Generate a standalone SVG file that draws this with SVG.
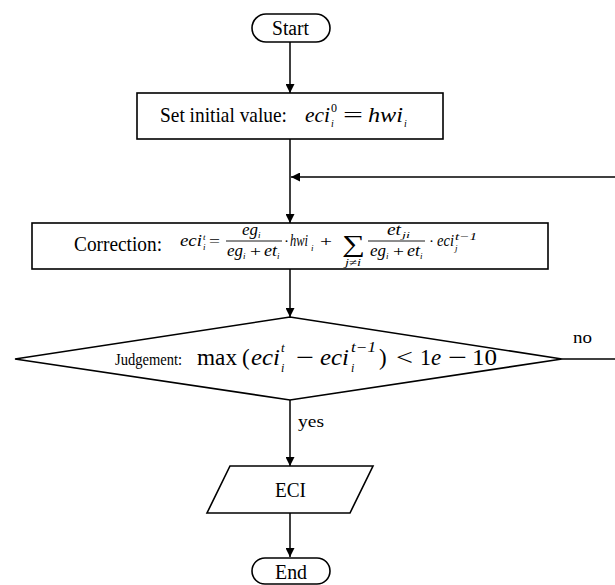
<svg xmlns="http://www.w3.org/2000/svg" width="615" height="585" viewBox="0 0 615 585">
<style>
.sh{fill:#fff;stroke:#000;stroke-width:1.6}
.ln{fill:none;stroke:#000;stroke-width:1.5}
text{font-family:'Liberation Serif','Times New Roman','DejaVu Serif',serif;fill:#000}
.m{font-style:italic}
.bar{stroke:#000;stroke-width:0.9}
</style>
<defs>
<marker id="ah" viewBox="0 0 10 10" refX="10" refY="5" markerWidth="9" markerHeight="9" markerUnits="userSpaceOnUse" orient="auto">
<path d="M0,0 L10,5 L0,10 z" fill="#000"/>
</marker>
</defs>
<g id="connectors">
<line class="ln" x1="290" y1="42" x2="290" y2="93" marker-end="url(#ah)"/>
<line class="ln" x1="290" y1="139" x2="290" y2="223" marker-end="url(#ah)"/>
<line class="ln" x1="615" y1="177" x2="291" y2="177" marker-end="url(#ah)"/>
<line class="ln" x1="290" y1="269" x2="290" y2="317" marker-end="url(#ah)"/>
<line class="ln" x1="290" y1="400" x2="290" y2="466" marker-end="url(#ah)"/>
<line class="ln" x1="562" y1="359" x2="615" y2="359"/>
<line class="ln" x1="290" y1="513" x2="290" y2="557" marker-end="url(#ah)"/>
<text x="298" y="427" font-size="17" textLength="26" lengthAdjust="spacingAndGlyphs">yes</text>
<text x="573" y="343" font-size="17" textLength="19" lengthAdjust="spacingAndGlyphs">no</text>
</g>
<g id="start">
<rect class="sh" x="252" y="14" width="78" height="28" rx="14"/>
<text x="272" y="35" font-size="20" textLength="37" lengthAdjust="spacingAndGlyphs">Start</text>
</g>
<g id="init">
<rect class="sh" x="137" y="93" width="306" height="46"/>
<text x="160" y="122" font-size="21" textLength="127" lengthAdjust="spacingAndGlyphs">Set initial value:</text>
<text class="m" x="305" y="122" font-size="22" textLength="25" lengthAdjust="spacingAndGlyphs">eci</text>
<text x="331" y="112" font-size="12">0</text>
<text class="m" x="331" y="127" font-size="10">i</text>
<text x="343" y="122" font-size="22" textLength="20" lengthAdjust="spacingAndGlyphs">=</text>
<text class="m" x="368" y="122" font-size="22" textLength="35" lengthAdjust="spacingAndGlyphs">hwi</text>
<text class="m" x="404" y="127" font-size="10">i</text>
</g>
<g id="correction">
<rect class="sh" x="32" y="223" width="516" height="46"/>
<text x="74" y="251" font-size="21" textLength="88" lengthAdjust="spacingAndGlyphs">Correction:</text>
<text class="m" x="180" y="246" font-size="16" textLength="22" lengthAdjust="spacingAndGlyphs">eci</text>
<text class="m" x="203" y="240" font-size="9">t</text>
<text class="m" x="203" y="250" font-size="9">i</text>
<text x="209" y="246" font-size="15" textLength="11" lengthAdjust="spacingAndGlyphs">=</text>
<text class="m" x="242" y="235" font-size="16" textLength="16" lengthAdjust="spacingAndGlyphs">eg</text>
<text class="m" x="258" y="238" font-size="9">i</text>
<line class="bar" x1="226" y1="241" x2="282" y2="241"/>
<text class="m" x="227" y="256" font-size="16" textLength="16" lengthAdjust="spacingAndGlyphs">eg</text>
<text class="m" x="243" y="259" font-size="9">i</text>
<text x="250" y="256" font-size="15" textLength="11" lengthAdjust="spacingAndGlyphs">+</text>
<text class="m" x="264" y="256" font-size="16" textLength="13" lengthAdjust="spacingAndGlyphs">et</text>
<text class="m" x="277" y="259" font-size="9">i</text>
<text x="284" y="246" font-size="15">·</text>
<text class="m" x="290" y="246" font-size="16" textLength="18" lengthAdjust="spacingAndGlyphs">hwi</text>
<text class="m" x="311" y="251" font-size="9">i</text>
<text x="320" y="246" font-size="15" textLength="12" lengthAdjust="spacingAndGlyphs">+</text>
<text x="342" y="252" font-size="24" textLength="23" lengthAdjust="spacingAndGlyphs">∑</text>
<text class="m" x="345" y="266" font-size="10" textLength="16" lengthAdjust="spacingAndGlyphs">j≠i</text>
<text class="m" x="387" y="235" font-size="16" textLength="14" lengthAdjust="spacingAndGlyphs">et</text>
<text class="m" x="402" y="238" font-size="9" textLength="8" lengthAdjust="spacingAndGlyphs">ji</text>
<line class="bar" x1="368" y1="241" x2="425" y2="241"/>
<text class="m" x="370" y="256" font-size="16" textLength="16" lengthAdjust="spacingAndGlyphs">eg</text>
<text class="m" x="386" y="259" font-size="9">i</text>
<text x="393" y="256" font-size="15" textLength="11" lengthAdjust="spacingAndGlyphs">+</text>
<text class="m" x="407" y="256" font-size="16" textLength="13" lengthAdjust="spacingAndGlyphs">et</text>
<text class="m" x="420" y="259" font-size="9">i</text>
<text x="429" y="246" font-size="15">·</text>
<text class="m" x="437" y="246" font-size="16" textLength="17" lengthAdjust="spacingAndGlyphs">eci</text>
<text class="m" x="455" y="240" font-size="10" textLength="22" lengthAdjust="spacingAndGlyphs">t−1</text>
<text class="m" x="455" y="251" font-size="9">j</text>
</g>
<g id="judgement">
<polygon class="sh" points="15,359 290,317 562,359 290,400"/>
<text x="115" y="365" font-size="17" textLength="67" lengthAdjust="spacingAndGlyphs">Judgement:</text>
<text x="197" y="365" font-size="23" textLength="40" lengthAdjust="spacingAndGlyphs">max</text>
<text x="242" y="365" font-size="23">(</text>
<text class="m" x="251" y="365" font-size="24" textLength="29" lengthAdjust="spacingAndGlyphs">eci</text>
<text class="m" x="281" y="352" font-size="13">t</text>
<text class="m" x="281" y="372" font-size="12">i</text>
<text x="296" y="365" font-size="23" textLength="18" lengthAdjust="spacingAndGlyphs">−</text>
<text class="m" x="320" y="365" font-size="24" textLength="29" lengthAdjust="spacingAndGlyphs">eci</text>
<text class="m" x="351" y="352" font-size="14" textLength="25" lengthAdjust="spacingAndGlyphs">t−1</text>
<text class="m" x="351" y="372" font-size="12">i</text>
<text x="379" y="365" font-size="23">)</text>
<text x="396" y="365" font-size="23" textLength="17" lengthAdjust="spacingAndGlyphs">&lt;</text>
<text x="420" y="365" font-size="23" textLength="11" lengthAdjust="spacingAndGlyphs">1</text>
<text class="m" x="431" y="365" font-size="23">e</text>
<text x="448" y="365" font-size="23" textLength="19" lengthAdjust="spacingAndGlyphs">−</text>
<text x="472" y="365" font-size="23" textLength="25" lengthAdjust="spacingAndGlyphs">10</text>
</g>
<g id="eci">
<polygon class="sh" points="230,466 373,466 350,513 207,513"/>
<text x="275" y="497" font-size="20" textLength="31" lengthAdjust="spacingAndGlyphs">ECI</text>
</g>
<g id="end">
<rect class="sh" x="252" y="558" width="78" height="26" rx="13"/>
<text x="275" y="579" font-size="20" textLength="32" lengthAdjust="spacingAndGlyphs">End</text>
</g>
</svg>
